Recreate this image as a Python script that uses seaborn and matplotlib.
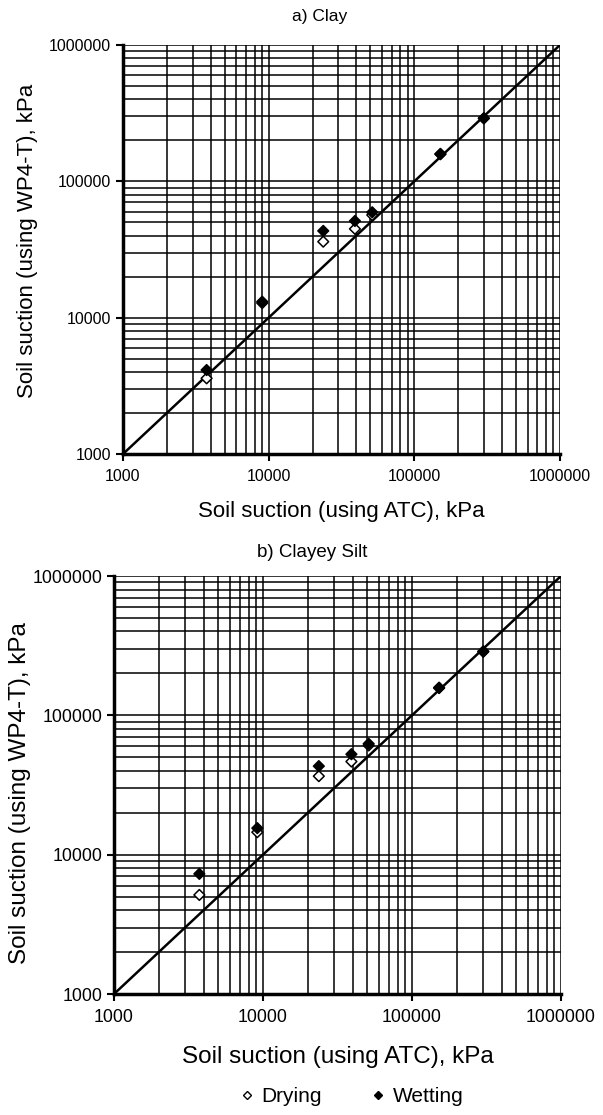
import numpy as np
import pandas as pd
import seaborn as sns
import matplotlib.pyplot as plt
from matplotlib.ticker import LogLocator, FuncFormatter, NullFormatter
from matplotlib.lines import Line2D

# a) Clay
clay_atc = [3750, 9030, 23700, 39100, 51400, 151000, 300000]
clay_dry = [3590, 12800, 36100, 44800, 56600, 158000, 290000]
clay_wet = [4130, 13100, 43300, 51200, 59300, 159000, 290000]

# b) Clayey Silt
silt_atc = [3740, 9160, 23700, 39200, 51200, 152000, 301000]
silt_dry = [5140, 14500, 36600, 46600, 60800, 157000, 286000]
silt_wet = [7280, 15500, 43200, 52600, 62500, 158000, 288000]

line_vals = [1000, 1000000]
tick_vals = [1000, 10000, 100000, 1000000]

sns.set_style("white")
plt.rcParams['font.family'] = ['Liberation Sans', 'DejaVu Sans']
plt.rcParams['text.color'] = 'black'
plt.rcParams['axes.labelcolor'] = 'black'
plt.rcParams['xtick.color'] = 'black'
plt.rcParams['ytick.color'] = 'black'

fig = plt.figure(figsize=(6.03, 11.15), dpi=100)
ax_a = fig.add_axes([123/603, 1-454/1115, 437/603, 409/1115])
ax_b = fig.add_axes([114/603, 1-994/1115, 447/603, 418/1115])


def draw_panel(ax, atc, dry, wet, title, title_x, fs_tick, fs_lab, fs_title,
               xpad, tpad, ylab_xpix, ylab_y):
    df = pd.DataFrame({'atc': atc + atc,
                       'wp4': dry + wet,
                       'cond': ['Drying']*len(dry) + ['Wetting']*len(wet)})
    ax.set_xscale('log')
    ax.set_yscale('log')
    ax.plot(line_vals, line_vals, color='black', lw=1.8, zorder=3)
    sns.scatterplot(data=df, x='atc', y='wp4', hue='cond', style='cond',
                    palette={'Drying': 'white', 'Wetting': 'black'},
                    markers={'Drying': 'D', 'Wetting': 'D'},
                    edgecolor='black', linewidth=1.1, s=30,
                    legend=False, ax=ax, zorder=4)
    for axis in (ax.xaxis, ax.yaxis):
        axis.set_major_locator(LogLocator(base=10))
        axis.set_minor_locator(LogLocator(base=10, subs=np.arange(2, 10)))
        axis.set_major_formatter(FuncFormatter(lambda v, p: f"{v:.0f}"))
        axis.set_minor_formatter(NullFormatter())
    ax.set_xticks(tick_vals)
    ax.set_yticks(tick_vals)
    ax.set_xlim(1000, 1000000)
    ax.set_ylim(1000, 1000000)
    ax.grid(which='both', color='black', lw=1.1)
    ax.tick_params(which='major', direction='out', length=5, width=1.5,
                   color='black', labelcolor='black', labelsize=fs_tick,
                   bottom=True, left=True)
    ax.tick_params(axis='x', pad=6)
    ax.tick_params(which='minor', length=0)
    for s in ['top', 'right']:
        ax.spines[s].set_visible(False)
    for s in ['left', 'bottom']:
        ax.spines[s].set_color('black')
        ax.spines[s].set_linewidth(2.5)
        ax.spines[s].set_zorder(5)
    ax.set_xlabel('Soil suction (using ATC), kPa', fontsize=fs_lab, labelpad=xpad,
                  color='black')
    ax.set_ylabel('Soil suction (using WP4-T), kPa', fontsize=fs_lab,
                  ha='center', va='center', color='black')
    bb = ax.get_position()
    ax.yaxis.set_label_coords((ylab_xpix/603 - bb.x0) / bb.width, ylab_y)
    ax.set_title(title, fontsize=fs_title, x=title_x, pad=tpad, color='black')


draw_panel(ax_a, clay_atc, clay_dry, clay_wet, 'a) Clay', 0.45, 11.5, 16, 12.5,
           12, 17, 28, 0.52)
draw_panel(ax_b, silt_atc, silt_dry, silt_wet, 'b) Clayey Silt', 0.443, 12.8, 17.5, 13.5,
           14, 14, 20, 0.48)

handles = [Line2D([], [], ls='', marker='D', ms=4, mfc='white', mec='black', mew=1),
           Line2D([], [], ls='', marker='D', ms=4, mfc='black', mec='black', mew=1)]
fig.legend(handles, ['Drying', 'Wetting'], loc='center', bbox_to_anchor=(350/603, 1-1097/1115),
           ncol=2, frameon=False, fontsize=15, handletextpad=0.2, columnspacing=2.2,
           handlelength=1.0, labelcolor='black')

fig.savefig('out.png', dpi=100)
